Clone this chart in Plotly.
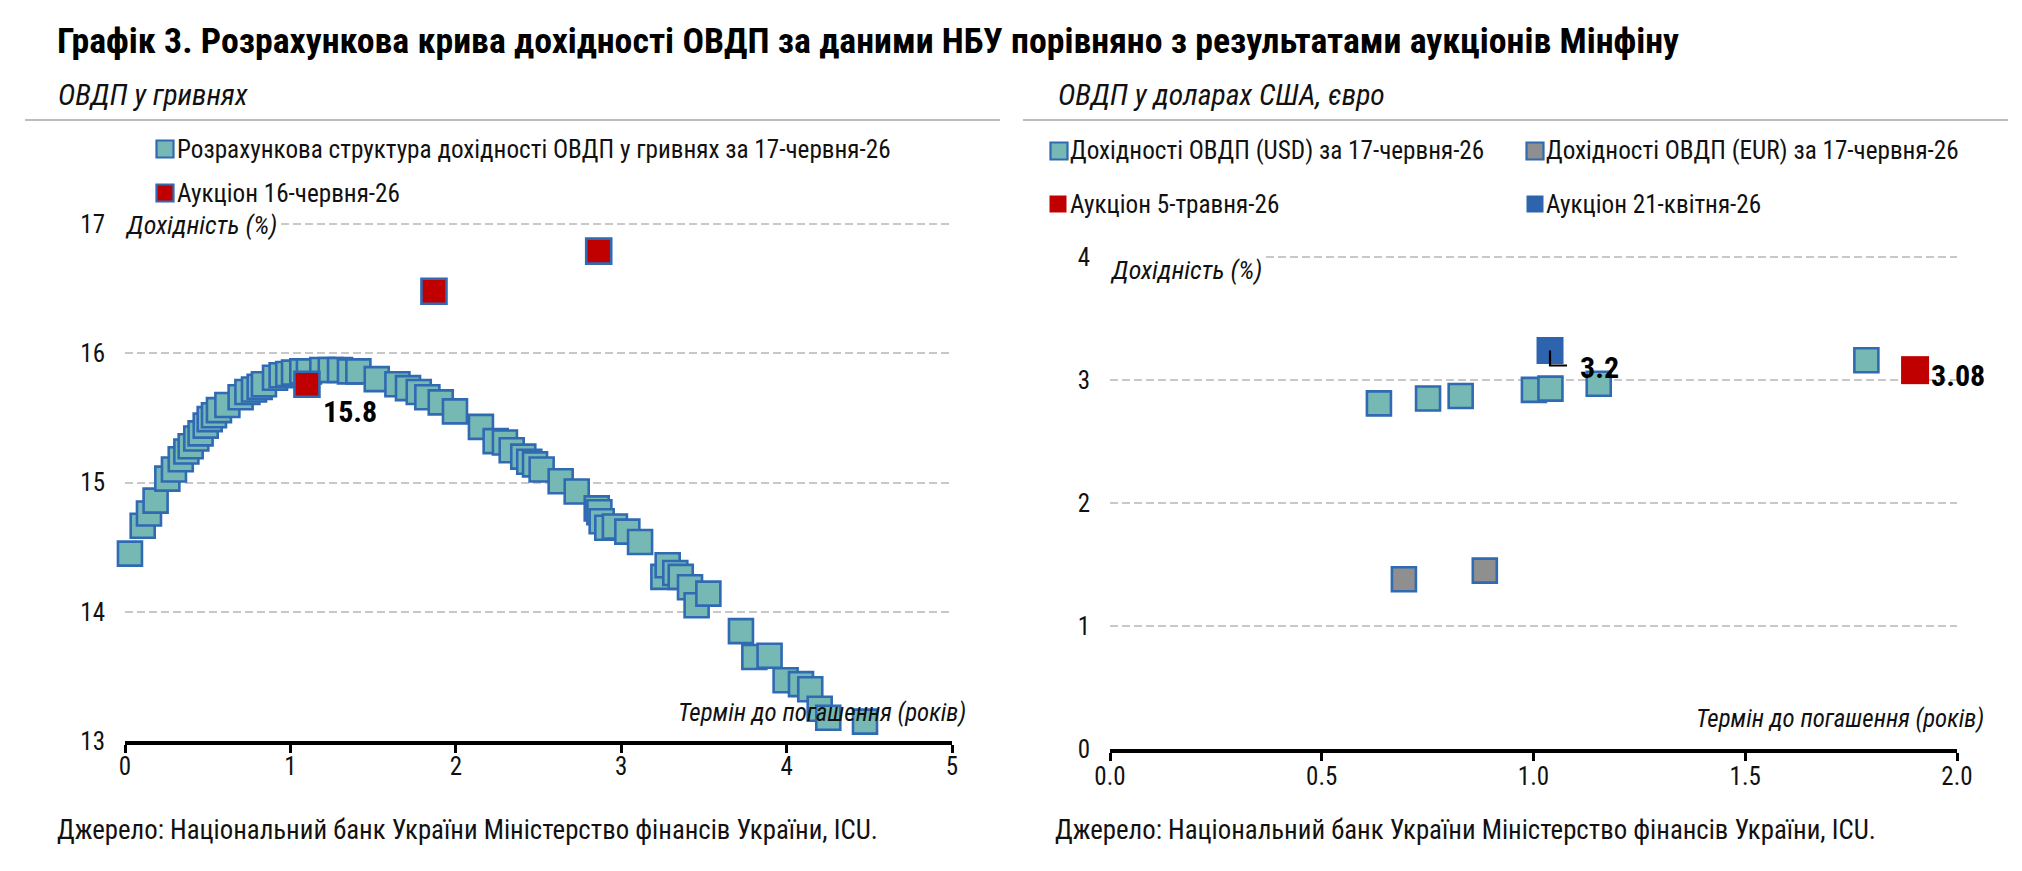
import plotly.graph_objects as go

W, H = 2022, 871
FONT = "Roboto, Open Sans, DejaVu Sans Condensed, sans-serif"

# ---------------- data ----------------
# Left: NBU estimated UAH curve (term in years, yield %)
uah_curve_term = [0.03, 0.107, 0.145, 0.185, 0.256, 0.296, 0.337, 0.371, 0.397, 0.431,
                  0.457, 0.488, 0.512, 0.538, 0.568, 0.619, 0.699, 0.740, 0.780, 0.814,
                  0.840, 0.907, 0.947, 0.987, 1.022, 1.072, 1.112, 1.193, 1.244, 1.300,
                  1.360, 1.411, 1.522, 1.647, 1.711, 1.776, 1.828, 1.909, 1.995, 2.152,
                  2.241, 2.297, 2.338, 2.408, 2.444, 2.479, 2.519, 2.634, 2.731, 2.852,
                  2.868, 2.882, 2.916, 2.962, 3.037, 3.114, 3.255, 3.281, 3.327, 3.360,
                  3.416, 3.456, 3.527, 3.724, 3.805, 3.897, 3.994, 4.087, 4.143, 4.200,
                  4.252, 4.474]
uah_curve_yield = [14.45, 14.665, 14.76, 14.86, 15.03, 15.10, 15.18, 15.24, 15.28, 15.34,
                   15.38, 15.44, 15.49, 15.52, 15.56, 15.60, 15.66, 15.70, 15.72, 15.74,
                   15.76, 15.81, 15.83, 15.84, 15.85, 15.86, 15.86, 15.87, 15.87, 15.87,
                   15.86, 15.86, 15.80, 15.76, 15.73, 15.70, 15.66, 15.62, 15.55, 15.43,
                   15.32, 15.31, 15.25, 15.20, 15.16, 15.14, 15.10, 15.01, 14.93, 14.80,
                   14.77, 14.70, 14.65, 14.66, 14.62, 14.54, 14.27, 14.36, 14.30, 14.27,
                   14.19, 14.05, 14.14, 13.85, 13.65, 13.66, 13.47, 13.44, 13.40, 13.25,
                   13.18, 13.15]
uah_auction_term = [1.10, 1.868, 2.864]
uah_auction_yield = [15.76, 16.48, 16.79]
uah_auction_labels = ["15.8", "", ""]

# Right: FX bonds
usd_term = [0.635, 0.751, 0.828, 1.001, 1.040, 1.154, 1.786]
usd_yield = [2.81, 2.85, 2.87, 2.92, 2.93, 2.97, 3.16]
eur_term = [0.694, 0.885]
eur_yield = [1.38, 1.45]
auc_may_term = [1.901]
auc_may_yield = [3.08]
auc_may_label = ["3.08"]
auc_apr_term = [1.039]
auc_apr_yield = [3.24]
auc_apr_label = ["3.2"]

left_yticks = [13, 14, 15, 16, 17]
left_xticks = [0, 1, 2, 3, 4, 5]
right_yticks = [0, 1, 2, 3, 4]
right_xticks = [0.0, 0.5, 1.0, 1.5, 2.0]

TITLE = "Графік 3. Розрахункова крива дохідності ОВДП за даними НБУ порівняно з результатами аукціонів Мінфіну"
SUB_L = "ОВДП у гривнях"
SUB_R = "ОВДП у доларах США, євро"
SOURCE = "Джерело: Національний банк України Міністерство фінансів України, ICU."
YTITLE = "Дохідність (%)"
XTITLE = "Термін до погашення (років)"
LEG_L = ["Розрахункова структура дохідності ОВДП у гривнях за 17-червня-26", "Аукціон 16-червня-26"]
LEG_R = ["Дохідності ОВДП (USD) за 17-червня-26", "Дохідності ОВДП (EUR) за 17-червня-26",
         "Аукціон 5-травня-26", "Аукціон 21-квітня-26"]

# ---------------- styles ----------------
TEAL = "#76B9B4"
BLUE_EDGE = "#2F6AB3"
RED = "#C00000"
GREY = "#8F8F8F"
BLUE = "#2E64AE"
GRID = "#C8C8C8"
TXT = "#111111"


def cond(s):
    return '<span style="font-stretch:condensed">' + s + '</span>'


def px(x):
    return x / W


def py(y):
    return 1 - y / H


fig = go.Figure()

fig.add_trace(go.Scatter(x=uah_curve_term, y=uah_curve_yield, mode="markers", name=LEG_L[0],
                         marker=dict(symbol="square", size=24, color=TEAL,
                                     line=dict(color=BLUE_EDGE, width=2.6)),
                         xaxis="x", yaxis="y", cliponaxis=False, showlegend=False))
fig.add_trace(go.Scatter(x=uah_auction_term, y=uah_auction_yield, mode="markers", name=LEG_L[1],
                         marker=dict(symbol="square", size=25, color=RED,
                                     line=dict(color=BLUE_EDGE, width=2.6)),
                         xaxis="x", yaxis="y", cliponaxis=False, showlegend=False))

fig.add_trace(go.Scatter(x=eur_term, y=eur_yield, mode="markers", name=LEG_R[1],
                         marker=dict(symbol="square", size=24, color=GREY,
                                     line=dict(color=BLUE_EDGE, width=2.6)),
                         xaxis="x2", yaxis="y2", cliponaxis=False, showlegend=False))
fig.add_trace(go.Scatter(x=usd_term, y=usd_yield, mode="markers", name=LEG_R[0],
                         marker=dict(symbol="square", size=24, color=TEAL,
                                     line=dict(color=BLUE_EDGE, width=2.6)),
                         xaxis="x2", yaxis="y2", cliponaxis=False, showlegend=False))
fig.add_trace(go.Scatter(x=auc_may_term, y=auc_may_yield, mode="markers", name=LEG_R[2],
                         marker=dict(symbol="square", size=28, color=RED, line=dict(width=0)),
                         xaxis="x2", yaxis="y2", cliponaxis=False, showlegend=False))
fig.add_trace(go.Scatter(x=auc_apr_term, y=auc_apr_yield, mode="markers", name=LEG_R[3],
                         marker=dict(symbol="square", size=27, color=BLUE, line=dict(width=0)),
                         xaxis="x2", yaxis="y2", cliponaxis=False, showlegend=False))

axis_common = dict(tickfont=dict(family=FONT, size=25, color=TXT), zeroline=False,
                   fixedrange=True, automargin=False)

fig.update_layout(
    width=W, height=H, margin=dict(l=0, r=0, t=0, b=0, pad=0, autoexpand=False),
    paper_bgcolor="white", plot_bgcolor="white", showlegend=False,
    font=dict(family=FONT, color=TXT),
    xaxis=dict(domain=[px(125), px(952)], range=[0, 5], tickvals=left_xticks,
               ticktext=[cond(str(v)) for v in left_xticks],
               showline=True, linecolor="black", linewidth=3.5, ticks="outside",
               ticklen=8, tickwidth=2.5, tickcolor="black", showgrid=False,
               ticklabelstandoff=-8, anchor="y", **axis_common),
    yaxis=dict(domain=[py(741), py(741 - 4.2 * 129.25)], range=[13, 17.2], tickvals=left_yticks,
               ticktext=[cond(str(v)) for v in left_yticks],
               showgrid=True, gridcolor=GRID, gridwidth=2, griddash="8px,4px",
               showline=False, ticks="", ticklabelstandoff=19, anchor="x", **axis_common),
    xaxis2=dict(domain=[px(1110), px(1957)], range=[0, 2], tickvals=right_xticks,
                ticktext=[cond(f"{v:.1f}") for v in right_xticks],
                showline=True, linecolor="black", linewidth=3.5, ticks="outside",
                ticklen=8, tickwidth=2.5, tickcolor="black", showgrid=False,
                ticklabelstandoff=-6, anchor="y2", **axis_common),
    yaxis2=dict(domain=[py(749), py(749 - 4.2 * 123)], range=[0, 4.2], tickvals=right_yticks,
                ticktext=[cond(str(v)) for v in right_yticks],
                showgrid=True, gridcolor=GRID, gridwidth=2, griddash="8px,4px",
                showline=False, ticks="", ticklabelstandoff=19, anchor="x2", **axis_common),
)

ann = []
shapes = []


def text(x, y, t, size=25, bold=False, italic=False, xanchor="left", bg=None, color=TXT):
    s = t
    if bold:
        s = "<b>" + s + "</b>"
    if italic:
        s = "<i>" + s + "</i>"
    d = dict(x=px(x), y=py(y), xref="paper", yref="paper", text=cond(s), showarrow=False,
             xanchor=xanchor, yanchor="middle", font=dict(family=FONT, size=size, color=color))
    if bg:
        d.update(bgcolor=bg, borderpad=0)
    ann.append(d)


text(55, 41, TITLE, size=35.8, bold=True, color="black")
text(56, 95, SUB_L, size=29.5, italic=True)
text(1056, 95, SUB_R, size=29.7, italic=True)
text(55, 830, SOURCE, size=26.8)
text(1053, 830, SOURCE, size=26.8)

# separators
for x0, x1 in [(25, 1000), (1023, 2008)]:
    shapes.append(dict(type="line", xref="paper", yref="paper", x0=px(x0), x1=px(x1),
                       y0=py(120), y1=py(120), line=dict(color="#A6A6A6", width=1.5)))

# axis titles
text(124, 225, YTITLE, size=26, italic=True, bg="white")
text(1109, 270, YTITLE, size=26, italic=True, bg="white")
text(968, 712, XTITLE, size=24.9, italic=True, xanchor="right")
text(1986, 718, XTITLE, size=24.9, italic=True, xanchor="right")


# legends (manual)
def legbox(cx, cy, fill, edge, t, tx):
    s = 8.5
    shapes.append(dict(type="rect", xref="paper", yref="paper", x0=px(cx - s), x1=px(cx + s),
                       y0=py(cy + s), y1=py(cy - s), fillcolor=fill,
                       line=dict(color=edge, width=2.2 if edge else 0)))
    text(tx, cy, t, size=25.2)


legbox(165, 149, TEAL, BLUE_EDGE, LEG_L[0], 175)
legbox(165, 193, RED, BLUE_EDGE, LEG_L[1], 175)
legbox(1059, 151, TEAL, BLUE_EDGE, LEG_R[0], 1068)
legbox(1535, 151, GREY, BLUE_EDGE, LEG_R[1], 1544)
legbox(1058, 204, RED, None, LEG_R[2], 1068)
legbox(1535, 204, BLUE, None, LEG_R[3], 1544)

# data labels
LABFONT = dict(family=FONT, size=30, color="black")
for xv, yv, lab in zip(uah_auction_term, uah_auction_yield, uah_auction_labels):
    if lab:
        ann.append(dict(x=xv, y=yv, xref="x", yref="y", text=cond("<b>" + lab + "</b>"), showarrow=False,
                        xshift=43, yshift=-27, font=LABFONT))
for xv, yv, lab in zip(auc_may_term, auc_may_yield, auc_may_label):
    ann.append(dict(x=xv, y=yv, xref="x2", yref="y2", text=cond("<b>" + lab + "</b>"), showarrow=False,
                    xshift=43, yshift=-5, font=LABFONT))
for xv, yv, lab in zip(auc_apr_term, auc_apr_yield, auc_apr_label):
    ann.append(dict(x=xv, y=yv, xref="x2", yref="y2", text=cond("<b>" + lab + "</b>"), showarrow=False,
                    xshift=49, yshift=-17, font=LABFONT))
    shapes.append(dict(type="path", xref="x2", yref="y2", xsizemode="pixel", ysizemode="pixel",
                       xanchor=xv, yanchor=yv, path="M0,0 L0,-15 L17,-15",
                       line=dict(color="black", width=2.2), layer="above"))

fig.update_layout(annotations=ann, shapes=shapes)

NO_MARGIN = ("document.documentElement.style.margin='0';document.body.style.margin='0';"
             "document.body.style.padding='0';document.documentElement.style.overflow='hidden';"
             "document.body.style.overflow='hidden';")
fig.write_html("out.html", post_script=NO_MARGIN)
